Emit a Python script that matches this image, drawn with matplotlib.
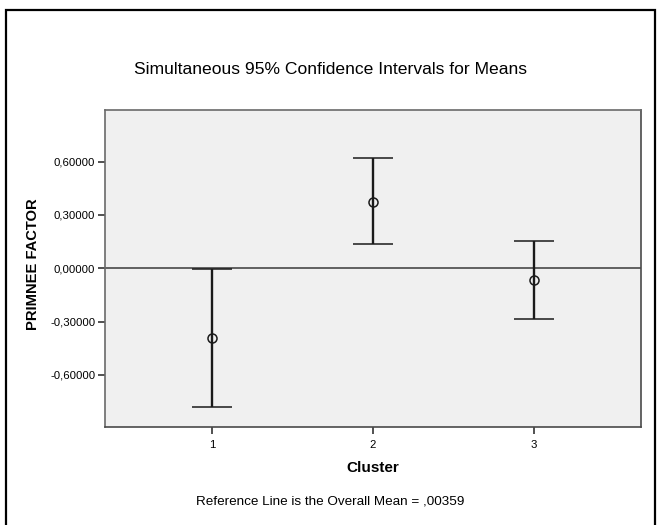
import matplotlib
matplotlib.use("Agg")
import matplotlib.pyplot as plt
from matplotlib.patches import Rectangle

plt.rcParams['font.family'] = ['Liberation Sans', 'DejaVu Sans']

clusters = [1, 2, 3]
means = [-0.394, 0.375, -0.066]
lower = [-0.782, 0.135, -0.285]
upper = [-0.005, 0.619, 0.154]
overall_mean = 0.00359
ytick_values = [-0.6, -0.3, 0.0, 0.3, 0.6]
ytick_labels = ["-0,60000", "-0,30000", "0,00000", "0,30000", "0,60000"]

W, H = 665, 525
fig = plt.figure(figsize=(W / 100, H / 100), dpi=100)
fig.patch.set_facecolor('white')

# outer border of the chart
fig.add_artist(Rectangle((6 / W, -0.01), 649 / W, 1 - 10 / H + 0.01,
                         transform=fig.transFigure, fill=False,
                         edgecolor='black', linewidth=1.6, zorder=0))

ax = fig.add_axes([105 / W, 1 - 427 / H, 536 / W, 317 / H])
ax.set_facecolor('#f0f0f0')
for side in ['top', 'left']:
    ax.spines[side].set_color('#6a6a6a')
for side in ['bottom', 'right']:
    ax.spines[side].set_color('#4a4a4a')
for s in ax.spines.values():
    s.set_linewidth(1.2)

ax.set_xlim(0.335, 3.665)
ax.set_ylim(-0.893, 0.890)

ax.axhline(overall_mean, color='#555555', linewidth=1.3, zorder=1)

yerr = [[m - lo for m, lo in zip(means, lower)],
        [hi - m for m, hi in zip(means, upper)]]
ax.errorbar(clusters, means, yerr=yerr, fmt='o', markersize=6.5,
            markerfacecolor='none', markeredgecolor='#1a1a1a',
            markeredgewidth=1.1, ecolor='#1a1a1a', elinewidth=1.7,
            capsize=14.5, capthick=2.0, zorder=3)

ax.set_xticks(clusters)
ax.set_xticklabels([str(c) for c in clusters])
ax.set_yticks(ytick_values)
ax.set_yticklabels(ytick_labels)
ax.tick_params(axis='both', labelsize=8.2, colors='#333333', labelcolor='black',
               length=5, width=1.2, direction='out')
ax.tick_params(axis='y', pad=2)
ax.tick_params(axis='x', pad=4)

ax.set_ylabel('PRIMNEE FACTOR', fontsize=10.6, fontweight='bold')
ax.yaxis.set_label_coords(-0.121, 0.515)
ax.set_xlabel('Cluster', fontsize=11, fontweight='bold')
ax.xaxis.set_label_coords(0.5, -0.107)

fig.text(330 / W, 1 - 70 / H, 'Simultaneous 95% Confidence Intervals for Means',
         ha='center', va='center', fontsize=12.6)
fig.text(330 / W, 1 - 502 / H, 'Reference Line is the Overall Mean = ,00359',
         ha='center', va='center', fontsize=9.7)

fig.savefig('out.png', dpi=100)
